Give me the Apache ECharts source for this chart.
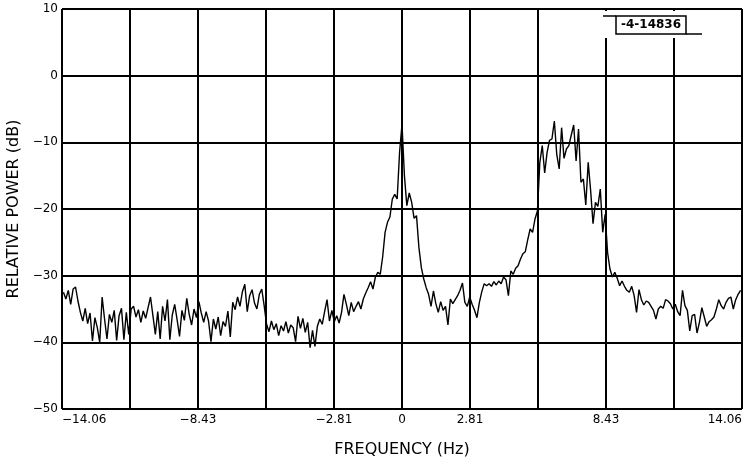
<!DOCTYPE html>
<html><head><meta charset="utf-8">
<script src="https://cdn.jsdelivr.net/npm/echarts@6/dist/echarts.min.js"></script>
<style>html,body{margin:0;padding:0;background:#fff}#c{width:743px;height:463px}</style>
</head><body><div id="c"></div>
<script>
// Frequency bins (Hz)
const freq = [
-14.0,-13.9,-13.8,-13.7,-13.6,-13.5,-13.4,-13.3,-13.2,-13.1,
-13.0,-12.9,-12.8,-12.7,-12.6,-12.5,-12.4,-12.3,-12.2,-12.1,
-12.0,-11.9,-11.8,-11.7,-11.6,-11.5,-11.4,-11.3,-11.2,-11.1,
-11.0,-10.9,-10.8,-10.7,-10.6,-10.5,-10.4,-10.3,-10.2,-10.1,
-10.0,-9.9,-9.8,-9.7,-9.6,-9.5,-9.4,-9.3,-9.2,-9.1,
-9.0,-8.9,-8.8,-8.7,-8.6,-8.5,-8.4,-8.3,-8.2,-8.1,
-8.0,-7.9,-7.8,-7.7,-7.6,-7.5,-7.4,-7.3,-7.2,-7.1,
-7.0,-6.9,-6.8,-6.7,-6.6,-6.5,-6.4,-6.3,-6.2,-6.1,
-6.0,-5.9,-5.8,-5.7,-5.6,-5.5,-5.4,-5.3,-5.2,-5.1,
-5.0,-4.9,-4.8,-4.7,-4.6,-4.5,-4.4,-4.3,-4.2,-4.1,
-4.0,-3.9,-3.8,-3.7,-3.6,-3.5,-3.4,-3.3,-3.2,-3.1,
-3.0,-2.9,-2.8,-2.7,-2.6,-2.5,-2.4,-2.3,-2.2,-2.1,
-2.0,-1.9,-1.8,-1.7,-1.6,-1.5,-1.4,-1.3,-1.2,-1.1,
-1.0,-0.9,-0.8,-0.7,-0.6,-0.5,-0.4,-0.3,-0.2,-0.1,
0.0,0.1,0.2,0.3,0.4,0.5,0.6,0.7,0.8,0.9,
1.0,1.1,1.2,1.3,1.4,1.5,1.6,1.7,1.8,1.9,
2.0,2.1,2.2,2.3,2.4,2.5,2.6,2.7,2.8,2.9,
3.0,3.1,3.2,3.3,3.4,3.5,3.6,3.7,3.8,3.9,
4.0,4.1,4.2,4.3,4.4,4.5,4.6,4.7,4.8,4.9,
5.0,5.1,5.2,5.3,5.4,5.5,5.6,5.7,5.8,5.9,
6.0,6.1,6.2,6.3,6.4,6.5,6.6,6.7,6.8,6.9,
7.0,7.1,7.2,7.3,7.4,7.5,7.6,7.7,7.8,7.9,
8.0,8.1,8.2,8.3,8.4,8.5,8.6,8.7,8.8,8.9,
9.0,9.1,9.2,9.3,9.4,9.5,9.6,9.7,9.8,9.9,
10.0,10.1,10.2,10.3,10.4,10.5,10.6,10.7,10.8,10.9,
11.0,11.1,11.2,11.3,11.4,11.5,11.6,11.7,11.8,11.9,
12.0,12.1,12.2,12.3,12.4,12.5,12.6,12.7,12.8,12.9,
13.0,13.1,13.2,13.3,13.4,13.5,13.6,13.7,13.8,13.9,
14.0
];
// Relative power (dB), -14.0 .. -4.6 Hz
const powerLeft = [
-32.5,-33.5,-32.2,-34.3,-32.0,-31.7,-33.8,-35.5,-36.8,-34.9,
-37.2,-35.6,-39.8,-36.3,-37.8,-40.0,-33.2,-36.5,-39.5,-35.8,
-37.0,-35.2,-39.7,-36.0,-34.9,-39.6,-35.5,-38.8,-35.0,-34.6,
-36.2,-35.1,-37.0,-35.3,-36.4,-34.8,-33.2,-36.0,-38.8,-35.4,
-39.5,-34.6,-36.8,-33.6,-39.6,-35.9,-34.3,-36.6,-39.1,-35.2,
-36.7,-33.4,-35.8,-37.4,-35.0,-36.3,-33.9,-35.6,-37.0,-35.4,
-36.8,-39.9,-36.5,-38.0,-36.2,-39.0,-36.9,-37.6,-35.3,-39.2,
-34.0,-35.1,-33.2,-34.6,-32.4,-31.3,-35.4,-33.0,-32.1,-34.1,
-35.0,-32.8,-32.0,-34.5,-37.3,-38.4,-36.8,-38.1,-37.2,-39.0,
-37.5,-38.3,-36.9,-38.6,-37.4
];
// -4.5 .. 4.9 Hz
const powerCenter = [
-37.8,-39.9,-36.1,-37.9,-36.4,-38.5,-37.0,-40.8,-38.2,-40.6,
-37.6,-36.5,-37.3,-35.4,-33.6,-36.8,-35.2,-36.9,-36.0,-37.1,
-35.5,-32.8,-34.3,-36.0,-34.0,-35.4,-34.6,-33.9,-35.0,-33.5,
-32.6,-31.8,-30.9,-32.0,-30.2,-29.5,-29.8,-27.2,-23.5,-22.0,
-21.2,-18.5,-17.8,-18.5,-11.5,-7.3,-15.0,-19.5,-17.6,-19.0,
-21.4,-21.0,-25.8,-28.8,-30.5,-31.8,-32.8,-34.6,-32.3,-34.2,
-35.5,-33.9,-35.2,-34.6,-37.4,-33.5,-34.2,-33.6,-33.0,-32.2,
-31.1,-34.0,-34.6,-33.2,-34.3,-35.2,-36.3,-34.0,-32.4,-31.2,
-31.5,-31.2,-31.6,-30.9,-31.4,-30.8,-31.2,-30.2,-30.6,-33.0,
-29.3,-29.8,-28.9,-28.5,-27.5
];
// 5.0 .. 14.0 Hz
const powerRight = [
-26.7,-26.4,-24.6,-23.0,-23.5,-21.5,-20.3,-13.0,-10.5,-14.6,
-11.5,-9.7,-9.5,-6.8,-11.8,-14.0,-7.8,-12.4,-11.0,-10.5,
-8.9,-7.4,-12.8,-8.0,-16.0,-15.5,-19.4,-13.0,-17.2,-22.2,
-19.0,-19.6,-17.0,-23.5,-20.8,-26.5,-29.0,-30.2,-29.5,-30.4,
-31.5,-30.8,-31.6,-32.2,-32.5,-31.6,-33.0,-35.5,-32.1,-33.6,
-34.4,-33.8,-34.0,-34.6,-35.2,-36.5,-35.0,-34.6,-34.9,-33.6,
-33.8,-34.2,-35.0,-34.3,-35.4,-36.0,-32.2,-34.5,-35.2,-38.3,
-36.0,-35.8,-38.6,-37.0,-34.8,-36.2,-37.6,-36.9,-36.6,-36.2,
-35.0,-33.6,-34.5,-35.0,-34.0,-33.4,-33.2,-35.0,-33.6,-32.8,
-32.2
];
const power = powerLeft.concat(powerCenter, powerRight);

const xMin = -14.06, xMax = 14.06, xStep = 2.812;
const xTickLabels = ['−14.06','','−8.43','','−2.81','0','2.81','','8.43','','14.06'];
const yMin = -50, yMax = 10, yStep = 10;
const tagText = '-4-14836';

const FONT = 'DejaVu Sans';
const chart = echarts.init(document.getElementById('c'), null, {renderer:'canvas'});
chart.setOption({
  animation: false,
  backgroundColor: '#fff',
  grid: {left: 62, right: 1, top: 9, bottom: 54, containLabel: false, outerBoundsMode: 'none'},
  xAxis: {
    type: 'value', min: xMin, max: xMax, interval: xStep,
    name: 'FREQUENCY (Hz)', nameLocation: 'middle', nameGap: 33,
    nameTextStyle: {fontFamily: FONT, fontSize: 16, color: '#000'},
    axisLine: {lineStyle: {color: '#000', width: 2}},
    axisTick: {show: false},
    axisLabel: {
      formatter: function (v) { const i = Math.round((v - xMin) / xStep); return xTickLabels[i] || ''; },
      margin: 5, fontFamily: FONT, fontSize: 12, color: '#000',
      showMinLabel: true, showMaxLabel: true,
      alignMinLabel: 'left', alignMaxLabel: 'right'
    },
    splitLine: {show: true, lineStyle: {color: '#000', width: 2}}
  },
  yAxis: {
    type: 'value', min: yMin, max: yMax, interval: yStep,
    name: 'RELATIVE POWER (dB)', nameLocation: 'middle', nameGap: 39, nameRotate: 90,
    nameTextStyle: {fontFamily: FONT, fontSize: 16, color: '#000'},
    axisLine: {lineStyle: {color: '#000', width: 2}},
    axisTick: {show: false},
    axisLabel: {
      formatter: function (v) { return v < 0 ? '−' + Math.abs(v) : String(v); },
      margin: 4, fontFamily: FONT, fontSize: 12, color: '#000'
    },
    splitLine: {show: true, lineStyle: {color: '#000', width: 2}}
  },
  series: [{
    type: 'line', data: freq.map((f, i) => [f, power[i]]),
    showSymbol: false, silent: true,
    lineStyle: {color: '#000', width: 1.4}
  }],
  graphic: [
    {type: 'rect', z: 100, shape: {x: 601, y: 11, width: 10, height: 27}, style: {fill: '#fff'}},
    {type: 'rect', z: 100, shape: {x: 669, y: 11, width: 10, height: 27}, style: {fill: '#fff'}},
    {type: 'line', z: 101, shape: {x1: 603, y1: 16, x2: 616, y2: 16}, style: {stroke: '#000', lineWidth: 1.5}},
    {type: 'line', z: 101, shape: {x1: 686, y1: 34, x2: 702, y2: 34}, style: {stroke: '#000', lineWidth: 1.5}},
    {type: 'rect', z: 101, shape: {x: 616, y: 16, width: 70, height: 18}, style: {fill: '#fff', stroke: '#000', lineWidth: 1.5}},
    {type: 'text', z: 102, x: 651, y: 25, style: {text: tagText, fill: '#000', font: 'bold 12px "DejaVu Sans"', align: 'center', verticalAlign: 'middle', textAlign: 'center', textVerticalAlign: 'middle'}}
  ]
});
</script></body></html>
